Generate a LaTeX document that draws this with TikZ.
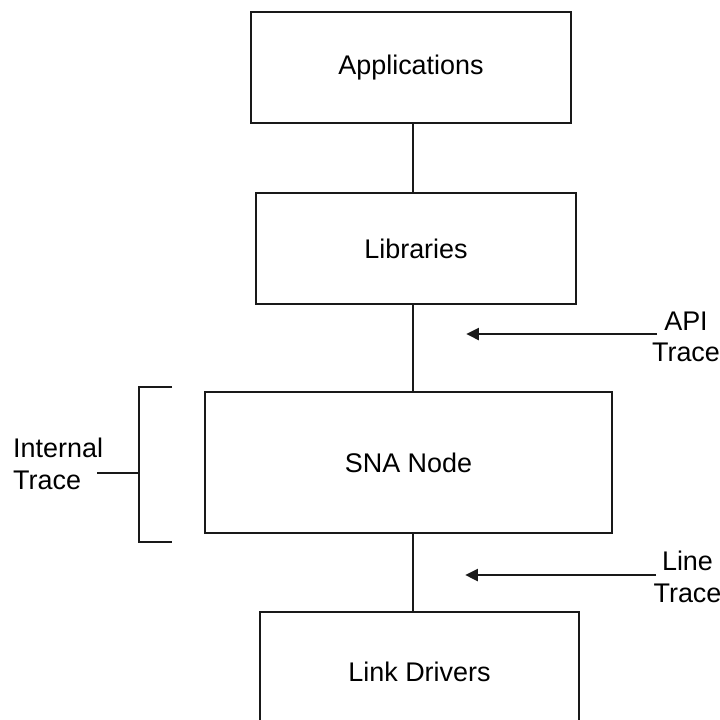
\documentclass[tikz,border=0pt]{standalone}
\usepackage{fontspec}
\setmainfont{Liberation Sans}
\usetikzlibrary{arrows.meta}
\tikzset{layer/.style={rectangle,draw=black!90,line width=2.5pt,fill=white,
minimum width=9.6cm, minimum height=3.33cm, inner sep=0pt,
font=\fontsize{23}{27}\selectfont},
tag/.style={inner sep=0pt, font=\fontsize{23}{27}\selectfont},
-/.style={draw=black!90, line width=2.5pt},
>={Triangle[length=11pt,width=10pt]}}

\begin{document}
\begin{tikzpicture}[x=0.03cm,y=-0.03cm]
  \useasboundingbox (0,0) rectangle (720,719);
  \clip (0,0) rectangle (720,719);

  \node (apps) [layer] at (411,67.5) {Applications};
  \node (libs) [layer] at (416,248.5) {Libraries};
  \node (sna) [layer,minimum width=12.21cm,minimum height=4.23cm] at (408.5,462.5) {SNA Node};
  \node (drivers) [layer,minimum width=9.57cm,minimum height=3.6cm] at (419.5,672) {Link Drivers};

  \coordinate (spine) at (413,0);
  \draw [-] (apps.south -| spine) -- (libs.north -| spine);
  \draw [-] (libs.south -| spine) -- (sna.north -| spine);
  \draw [-] (sna.south -| spine) -- (drivers.north -| spine);

  \node (api) [tag,align=center] at (686,337) {API\\Trace};
  \coordinate (apistart) at (657,334);
  \coordinate (apitip) at (466,334);
  \draw [-,->] (apistart) -- (apitip);

  \node (line) [tag,align=center] at (687.5,577) {Line\\Trace};
  \coordinate (linestart) at (656,575);
  \coordinate (linetip) at (465,575);
  \draw [-,->] (linestart) -- (linetip);

  \node (internal) [tag,align=left,anchor=west] at (13,464) {Internal\\Trace};
  \coordinate (brtop) at (172,387);
  \coordinate (brbot) at (172,542);
  \coordinate (brmid) at (139,473);
  \coordinate (intend) at (97,473);
  \draw [-,line width=2pt] (brtop) -| (brmid) |- (brbot);
  \draw [-] (intend) -- (brmid);
\end{tikzpicture}
\end{document}
